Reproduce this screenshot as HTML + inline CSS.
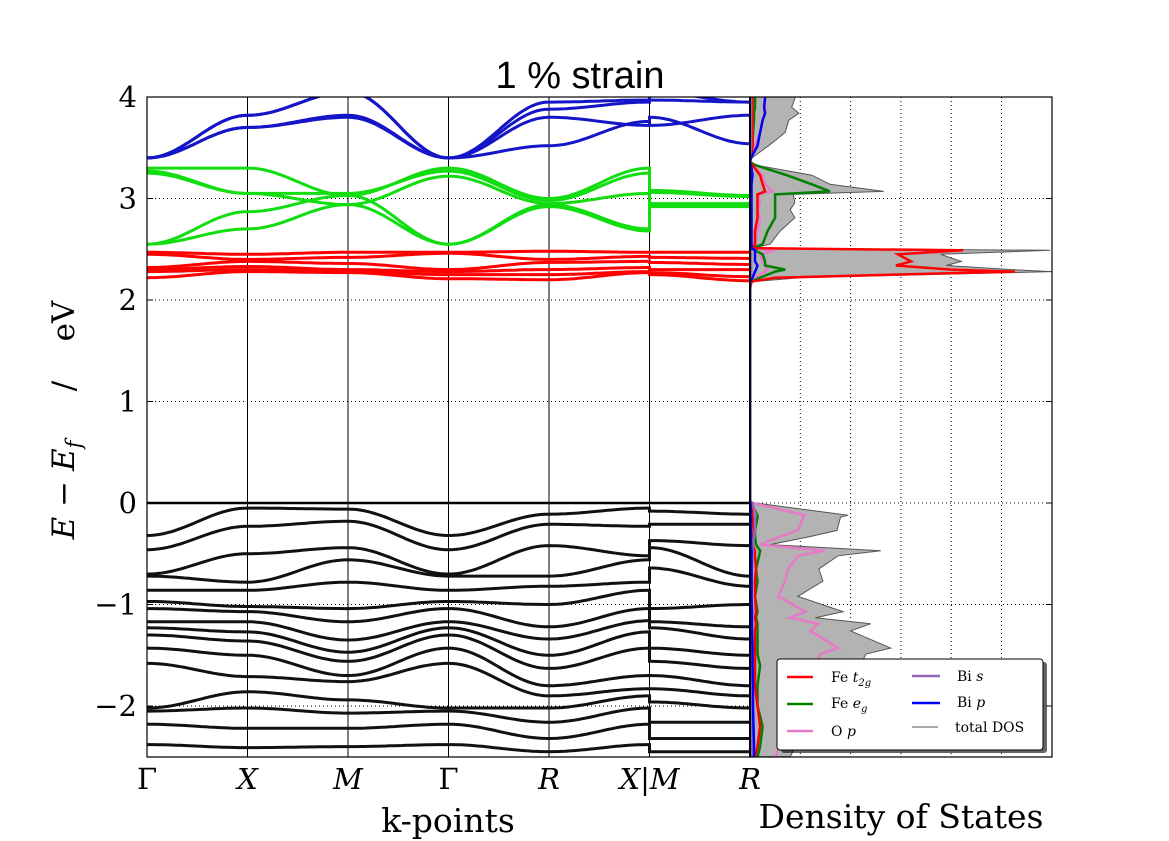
<!DOCTYPE html>
<html><head><meta charset="utf-8"><style>
body{margin:0;background:#fff}
svg{display:block}
text{font-family:"DejaVu Serif","Liberation Serif",serif}
</style></head><body>
<svg id="chart" width="1169" height="841" viewBox="0 0 1169 841" xmlns="http://www.w3.org/2000/svg">
<defs><clipPath id="bandclip"><rect x="147" y="97" width="603" height="660"/></clipPath>
<clipPath id="dosclip"><rect x="750" y="97" width="302" height="660"/></clipPath></defs>
<rect width="1169" height="841" fill="#fff"/>
<text x="580" y="88" font-size="38" text-anchor="middle" style="font-family:'Liberation Sans',sans-serif">1 % strain</text>
<g id="grid"></g>
<g id="bands" clip-path="url(#bandclip)"></g>
<g id="dos" clip-path="url(#dosclip)"></g>
<g id="axes"></g>
<g id="legend">
<rect x="781" y="662" width="266" height="91" rx="3" fill="#000" opacity="0.6"/>
<rect x="777" y="659" width="266" height="91" rx="3" fill="#fff" stroke="#000" stroke-width="1"/>
<line x1="787" y1="677" x2="813" y2="677" stroke="#ff0000" stroke-width="2.5"/>
<text x="831" y="682" font-size="14">Fe <tspan font-style="italic">t</tspan><tspan font-size="10" font-style="italic" dy="4">2g</tspan></text>
<line x1="787" y1="704" x2="813" y2="704" stroke="#008000" stroke-width="2.5"/>
<text x="831" y="708" font-size="14">Fe <tspan font-style="italic">e</tspan><tspan font-size="10" font-style="italic" dy="4">g</tspan></text>
<line x1="787" y1="731" x2="813" y2="731" stroke="#e67ac6" stroke-width="2.5"/>
<text x="831" y="736" font-size="14">O <tspan font-style="italic">p</tspan></text>
<line x1="912" y1="676" x2="940" y2="676" stroke="#9467bd" stroke-width="2.5"/>
<text x="957" y="681" font-size="14">Bi <tspan font-style="italic">s</tspan></text>
<line x1="912" y1="703" x2="940" y2="703" stroke="#0000ff" stroke-width="2.5"/>
<text x="957" y="707" font-size="14">Bi <tspan font-style="italic">p</tspan></text>
<line x1="912" y1="727" x2="938" y2="727" stroke="#555" stroke-width="1"/>
<text x="955" y="732" font-size="14">total DOS</text>
</g>
<text x="448" y="832" font-size="33" text-anchor="middle">k-points</text>
<text x="901" y="828" font-size="33" text-anchor="middle">Density of States</text>
<text transform="translate(74,420) rotate(-90)" font-size="31" text-anchor="middle"><tspan font-style="italic">E</tspan> − <tspan font-style="italic">E</tspan><tspan font-size="21" font-style="italic" dy="7">f</tspan><tspan dy="-7" xml:space="preserve">     /    eV</tspan></text>
</svg>
<script>
const kLabels=["Γ","X","M","Γ","R","X|M","R"];
const kPos=[0,1,2,3,4,5,6];
const yTicks=[4,3,2,1,0,-1,-2];
// band energies at [Γ,X,M,Γ,R,X,M(after jump),R]
const blueBands=[
[3.40,3.70,3.80,3.40,3.80,3.72,3.80,3.54],
[3.40,3.70,3.82,3.40,3.52,3.76,3.72,3.82],
[3.40,3.82,4.05,3.40,3.95,3.97,3.97,3.95],
[3.40,3.82,4.05,3.40,3.88,3.95,4.05,3.95]];
const greenBands=[
[3.30,3.30,3.03,3.30,3.00,3.30,3.08,3.03],
[3.27,3.05,3.05,3.27,2.98,3.25,3.06,3.02],
[3.25,3.05,2.94,3.22,2.95,3.05,2.93,2.93],
[2.55,2.87,3.03,2.55,2.94,2.70,2.92,2.92],
[2.55,2.70,2.94,2.55,2.92,2.68,2.95,2.95]];
const redBands=[
[2.47,2.45,2.47,2.47,2.48,2.47,2.47,2.47],
[2.45,2.40,2.42,2.46,2.40,2.43,2.42,2.41],
[2.32,2.38,2.36,2.30,2.37,2.38,2.37,2.35],
[2.30,2.33,2.30,2.28,2.30,2.32,2.30,2.30],
[2.28,2.30,2.28,2.25,2.25,2.28,2.27,2.23],
[2.22,2.28,2.27,2.21,2.20,2.27,2.25,2.19]];
const valG=[-0.32,-0.46,-0.70,-0.72,-0.86,-0.97,-1.04,-1.17,-1.23,-1.30,-1.43,-1.58,-2.02,-2.05,-2.18,-2.38];
const valX=[-0.05,-0.23,-0.50,-0.78,-0.86,-1.02,-1.07,-1.17,-1.27,-1.36,-1.50,-1.71,-1.86,-2.02,-2.22,-2.41];
const valM=[-0.06,-0.18,-0.44,-0.56,-0.78,-1.04,-1.17,-1.35,-1.47,-1.56,-1.70,-1.76,-1.94,-2.07,-2.22,-2.40];
const valR=[-0.11,-0.21,-0.42,-0.72,-0.82,-1.00,-1.22,-1.34,-1.50,-1.63,-1.80,-1.90,-2.02,-2.16,-2.32,-2.45];
const valXl=[-0.05,-0.23,-0.52,-0.56,-0.78,-0.86,-1.04,-1.16,-1.27,-1.43,-1.70,-1.83,-1.90,-2.02,-2.18,-2.38];
const valMr=[-0.08,-0.21,-0.37,-0.44,-0.64,-1.04,-1.17,-1.23,-1.43,-1.56,-1.70,-1.83,-1.96,-2.16,-2.32,-2.45];
const dosE=[4.0,3.9,3.84,3.77,3.65,3.52,3.40,3.36,3.33,3.23,3.14,3.07,3.04,2.96,2.89,2.81,2.68,2.55,2.51,2.49,2.45,2.38,2.34,2.30,2.28,2.22,2.18,2.1,0.02,0,-0.12,-0.14,-0.27,-0.33,-0.41,-0.47,-0.52,-0.65,-0.77,-0.92,-1.07,-1.13,-1.19,-1.26,-1.43,-1.49,-1.6,-1.8,-2.0,-2.2,-2.4,-2.5];
const dosTotal=[0.9,0.83,0.97,0.77,0.7,0.37,0.04,0,0.1,1.23,1.59,2.66,0.86,0.89,0.8,0.89,0.6,0.4,0.05,5.97,3.79,4.2,3.9,5.2,6.0,1.0,0.05,0,0,0.1,1.95,1.8,1.73,1.2,0.4,2.6,1.75,1.37,1.45,0.95,1.85,1.3,2.4,2.0,2.8,2.3,2.2,1.6,1.3,1.1,0.9,0.8];
const dosT2g=[0.05,0.05,0.05,0.05,0.05,0.05,0.02,0,0.05,0.2,0.25,0.3,0.15,0.15,0.15,0.15,0.1,0.1,0.05,4.24,2.94,3.2,2.9,4.0,5.27,0.5,0.02,0,0,0.02,0.05,0.05,0.08,0.06,0.05,0.1,0.1,0.12,0.1,0.1,0.12,0.1,0.12,0.1,0.1,0.1,0.1,0.1,0.15,0.2,0.15,0.1];
const dosEg=[0.1,0.1,0.08,0.08,0.06,0.05,0.02,0,0.1,0.73,1.23,1.59,0.5,0.5,0.5,0.5,0.35,0.25,0.05,0.1,0.25,0.3,0.3,0.7,0.5,0.2,0.02,0,0,0.02,0.15,0.15,0.1,0.1,0.12,0.2,0.18,0.12,0.15,0.1,0.15,0.12,0.15,0.15,0.15,0.15,0.2,0.15,0.15,0.25,0.2,0.15];
const dosOp=[0.3,0.3,0.3,0.25,0.2,0.1,0.02,0,0.05,0.25,0.3,0.45,0.15,0.2,0.15,0.2,0.15,0.1,0.05,0.5,0.2,0.25,0.3,0.35,0.3,0.1,0.02,0,0,0.05,1.09,1.06,0.95,0.6,0.2,1.49,0.96,0.75,0.7,0.56,1.1,0.8,1.36,1.2,1.75,1.4,1.3,1.0,0.8,0.7,0.6,0.5];
const dosBip=[0.3,0.28,0.3,0.25,0.2,0.15,0.02,0,0.02,0.05,0.03,0.03,0.03,0.03,0.03,0.03,0.03,0.03,0.03,0.1,0.1,0.1,0.15,0.12,0.1,0.05,0,0,0,0.01,0.02,0.02,0.02,0.02,0.02,0.03,0.03,0.03,0.03,0.03,0.04,0.04,0.04,0.04,0.05,0.05,0.05,0.06,0.06,0.07,0.08,0.08];
const dosBis=[0.02,0.02,0.02,0.02,0.02,0.02,0,0,0.01,0.02,0.02,0.02,0.02,0.02,0.02,0.02,0.02,0.02,0.01,0.02,0.02,0.02,0.02,0.02,0.02,0.01,0,0,0,0.05,0.12,0.1,0.1,0.08,0.05,0.06,0.05,0.04,0.04,0.03,0.03,0.03,0.03,0.03,0.03,0.03,0.03,0.03,0.03,0.03,0.03,0.03];

const NS="http://www.w3.org/2000/svg";
const X0=147,X1=750,kStep=(X1-X0)/6;
const kx=k=>X0+k*kStep;
const ey=e=>503-e*101.5;
const dx=v=>750+v*50.3;
const ptK=[0,1,2,3,4,5,5,6];
function mk(tag,attrs,parent){const el=document.createElementNS(NS,tag);for(const a in attrs)el.setAttribute(a,attrs[a]);parent.appendChild(el);return el;}
const grid=document.getElementById('grid'),bandsG=document.getElementById('bands'),dosG=document.getElementById('dos'),axes=document.getElementById('axes');
yTicks.forEach(t=>{if(t===4||t===0)return;
 const l=mk('line',{x1:X0,x2:1052,y1:ey(t),y2:ey(t),stroke:'#000','stroke-width':1,'stroke-dasharray':'1,3'},grid);
 
 });
[1,2,3,4,5].forEach(i=>{const l=mk('line',{x1:dx(i),x2:dx(i),y1:97,y2:757,stroke:'#000','stroke-width':1,'stroke-dasharray':'1,3'},grid);
 
 });
mk('line',{x1:750,x2:1052,y1:ey(0),y2:ey(0),stroke:'#000','stroke-width':1,'stroke-dasharray':'1,3'},grid);
kPos.forEach((k,i)=>{if(i===0||i===6)return;
 const l=mk('line',{x1:kx(k),x2:kx(k),y1:97,y2:757,stroke:'#000','stroke-width':1},grid);
 
 });
function bandPath(vals){let d='';
 for(let s=0;s<7;s++){const xa=kx(ptK[s]),xb=kx(ptK[s+1]),a=vals[s],b=vals[s+1];
  const n=xa===xb?1:24;
  for(let j=0;j<=n;j++){const t=j/n;const e=a+(b-a)*(1-Math.cos(Math.PI*t))/2;
   d+=(d?'L':'M')+(xa+(xb-xa)*t).toFixed(1)+','+ey(e).toFixed(1);}}
 return d;}
function drawBands(list,color,name){list.forEach(v=>{
 const p=mk('path',{d:bandPath(v),fill:'none',stroke:color,'stroke-width':3},bandsG);
 
 });}
const valBands=valG.map((_,i)=>[valG[i],valX[i],valM[i],valG[i],valR[i],valXl[i],valMr[i],valR[i]]);
drawBands(valBands,'#111','valence-band');
drawBands(redBands,'#ff0000','fe-t2g-band');
drawBands(greenBands,'#11dd11','fe-eg-band');
drawBands(blueBands,'#1515c8','bi-p-band');
mk('line',{x1:X0,x2:X1,y1:ey(0),y2:ey(0),stroke:'#000','stroke-width':2.5},bandsG);
let fill='M750,'+ey(dosE[0]);dosE.forEach((e,i)=>fill+='L'+dx(dosTotal[i]).toFixed(1)+','+ey(e).toFixed(1));fill+='L750,'+ey(dosE[dosE.length-1])+'Z';
const fp=mk('path',{d:fill,fill:'#b3b3b3',stroke:'#555','stroke-width':1},dosG);


function dosLine(arr,color,name){const pts=dosE.map((e,i)=>dx(arr[i]).toFixed(1)+','+ey(e).toFixed(1)).join(' ');
 const l=mk('polyline',{points:pts,fill:'none',stroke:color,'stroke-width':2.5},dosG);
 
 }
dosLine(dosOp,'#e67ac6','dos-o-p');
dosLine(dosEg,'#008000','dos-fe-eg');
dosLine(dosT2g,'#ff0000','dos-fe-t2g');
dosLine(dosBis,'#9467bd','dos-bi-s');
dosLine(dosBip,'#0000ff','dos-bi-p');
const f1=mk('rect',{x:X0,y:97,width:X1-X0,height:660,fill:'none',stroke:'#000','stroke-width':1.2},axes);


const f2=mk('rect',{x:750,y:97,width:302,height:660,fill:'none',stroke:'#000','stroke-width':1.2},axes);


mk('line',{x1:750,x2:750,y1:97,y2:757,stroke:'#000','stroke-width':2},axes);
yTicks.forEach(t=>{
 mk('line',{x1:X0,x2:X0+6,y1:ey(t),y2:ey(t),stroke:'#000'},axes);
 mk('line',{x1:1052,x2:1046,y1:ey(t),y2:ey(t),stroke:'#000'},axes);
 const tx=mk('text',{x:137,y:ey(t)+10,'font-size':29,'text-anchor':'end'},axes);
 tx.textContent=t<0?'−'+Math.abs(t):String(t);
 
 });
kLabels.forEach((lab,i)=>{const tx=mk('text',{x:kx(kPos[i]),y:789,'font-size':29,'text-anchor':'middle','font-style':lab==='Γ'?'normal':'italic'},axes);
 tx.textContent=lab;
 
 });
</script>
</body></html>
